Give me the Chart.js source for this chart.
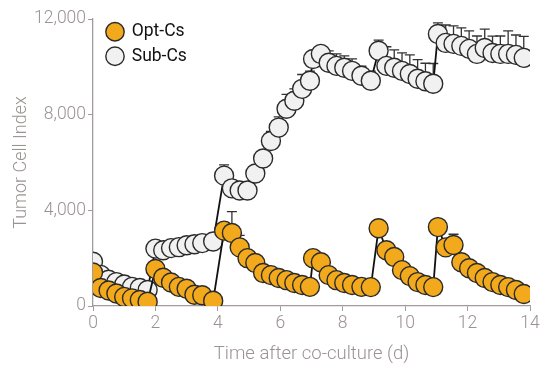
<!DOCTYPE html>
<html>
<head>
<meta charset="utf-8">
<script src="https://cdn.jsdelivr.net/npm/chart.js@4/dist/chart.umd.min.js"></script>
<style>
  html, body { margin: 0; padding: 0; background: #fff; }
  #wrap { width: 542px; height: 365px; }
</style>
</head>
<body>
<div id="wrap"><canvas id="myChart" width="542" height="365"></canvas></div>
<script>
const days = [
    0, 0.25, 0.5, 0.75, 1.0, 1.25, 1.5, 1.75,
    2.0, 2.25, 2.5, 2.75, 3.0, 3.25, 3.5, 3.85,
    4.2, 4.45, 4.7, 4.95, 5.2, 5.45, 5.7, 5.95, 6.2, 6.45, 6.7, 6.95,
    7.05, 7.3, 7.55, 7.8, 8.05, 8.3, 8.6, 8.9,
    9.15, 9.4, 9.65, 9.9, 10.15, 10.4, 10.65, 10.9,
    11.05, 11.3, 11.55, 11.8, 12.05, 12.3, 12.55, 12.8, 13.05, 13.3, 13.55, 13.8
];

const optCs = [
    1400, 750, 650, 520, 380, 320, 250, 180,
    1550, 1180, 980, 800, 720, 470, 450, 220,
    3150, 3050, 2450, 2000, 1800, 1380, 1290, 1170, 1080, 960, 880, 800,
    2000, 1830, 1290, 1080, 960, 880, 800, 790,
    3250, 2330, 2050, 1500, 1250, 1000, 880, 790,
    3300, 2450, 2550, 1830, 1580, 1380, 1170, 1000, 880, 790, 670, 500
];

const optErr = [
    0, 0, 0, 0, 0, 0, 0, 0,
    0, 0, 0, 0, 0, 0, 0, 0,
    0, 900, 500, 0, 0, 0, 0, 0, 0, 0, 0, 0,
    0, 0, 0, 0, 0, 0, 0, 0,
    330, 0, 0, 0, 0, 0, 0, 0,
    0, 0, 450, 0, 0, 0, 0, 0, 0, 0, 0, 0
];

const subCs = [
    1850, 1300, 1100, 1000, 900, 800, 750, 670,
    2400, 2330, 2420, 2460, 2540, 2580, 2630, 2700,
    5450, 4920, 4830, 4830, 5540, 6170, 6900, 7460, 8250, 8580, 9080, 9420,
    10330, 10540, 10170, 10040, 9960, 9830, 9625, 9420,
    10670, 10040, 9960, 9830, 9700, 9500, 9400, 9290,
    11375, 11000, 10960, 10875, 10750, 10540, 10790, 10580, 10540, 10540, 10500, 10375
];

const subErr = [
    0, 0, 0, 0, 0, 0, 0, 0,
    0, 0, 0, 0, 300, 350, 350, 300,
    450, 0, 0, 0, 0, 300, 400, 450, 600, 500, 600, 400,
    0, 300, 500, 500, 500, 500, 400, 400,
    450, 800, 750, 750, 800, 800, 750, 850,
    460, 750, 750, 750, 750, 750, 790, 700, 750, 960, 830, 900
];

const seriesLabels = ['Opt-Cs', 'Sub-Cs'];
const xTicks = [0, 2, 4, 6, 8, 10, 12, 14];
const yTicks = [0, 4000, 8000, 12000];

const AXIS_GREY = '#a39b9b';
const TEXT_GREY = '#9b9292';
const TICK_FONT = { family: 'Roboto', size: 17.5, weight: 300 };

const errorBars = {
    id: 'errorBars',
    beforeDatasetDraw (chart, args) {
        const errs = [optErr, subErr][args.index];
        const vals = [optCs, subCs][args.index];
        const { ctx, scales: { y } } = chart;

        ctx.save();
        ctx.strokeStyle = '#333';
        ctx.lineWidth = 1.3;
        args.meta.data.forEach((pt, i) => {
            if (!errs[i]) return;
            const top = y.getPixelForValue(vals[i] + errs[i]);
            ctx.beginPath();
            ctx.moveTo(pt.x, pt.y);
            ctx.lineTo(pt.x, top);
            ctx.moveTo(pt.x - 5, top);
            ctx.lineTo(pt.x + 5, top);
            ctx.stroke();
        });
        ctx.restore();
    }
};

// nudge the in-plot legend a little away from the axes
const legendShift = {
    id: 'legendShift',
    afterLayout (chart) {
        chart.legend.left += 7;
        chart.legend.top += 16;
    }
};

function toPoints (values) {
    return values.map((v, i) => ({ x: days[i], y: v }));
}

const ctx = document.getElementById('myChart');

new Chart(ctx, {
    type: 'line',
    data: {
        datasets: [
            {
                label: seriesLabels[0],
                data: toPoints(optCs),
                borderColor: '#111',
                borderWidth: 1.8,
                pointRadius: 9.5,
                pointBorderWidth: 1.4,
                pointBackgroundColor: '#f3a91c',
                pointBorderColor: '#2a2a2a',
                tension: 0
            },
            {
                label: seriesLabels[1],
                data: toPoints(subCs),
                borderColor: '#111',
                borderWidth: 1.8,
                pointRadius: 9.5,
                pointBorderWidth: 1.4,
                pointBackgroundColor: '#f1f1f1',
                pointBorderColor: '#2a2a2a',
                tension: 0
            }
        ]
    },
    options: {
        responsive: false,
        animation: false,
        layout: {
            padding: { top: 19, right: 12, bottom: 0, left: 4 }
        },
        font: { family: 'Roboto' },
        plugins: {
            legend: {
                position: 'chartArea',
                align: 'start',
                labels: {
                    usePointStyle: true,
                    pointStyle: 'circle',
                    boxWidth: 16,
                    boxHeight: 13,
                    padding: 7,
                    color: '#111',
                    font: { family: 'Roboto', size: 17.5 }
                }
            },
            tooltip: { enabled: false }
        },
        scales: {
            x: {
                type: 'linear',
                min: 0,
                max: 14,
                afterBuildTicks: axis => {
                    axis.ticks = xTicks.map(v => ({ value: v }));
                },
                afterFit: axis => {
                    axis.height = 59;
                },
                border: { color: AXIS_GREY, width: 1.3 },
                grid: {
                    drawOnChartArea: false,
                    drawTicks: true,
                    tickLength: 5,
                    color: AXIS_GREY
                },
                ticks: {
                    color: TEXT_GREY,
                    padding: 2,
                    maxRotation: 0,
                    font: TICK_FONT
                },
                title: {
                    display: true,
                    text: 'Time after co-culture (d)',
                    color: TEXT_GREY,
                    padding: { top: 4, bottom: 0 },
                    font: { family: 'Roboto', size: 18.5, weight: 300 }
                }
            },
            y: {
                min: 0,
                max: 12000,
                afterBuildTicks: axis => {
                    axis.ticks = yTicks.map(v => ({ value: v }));
                },
                afterFit: axis => {
                    axis.width = 89;
                },
                border: { color: AXIS_GREY, width: 1.3 },
                grid: {
                    drawOnChartArea: false,
                    drawTicks: true,
                    tickLength: 5,
                    color: AXIS_GREY
                },
                ticks: {
                    color: TEXT_GREY,
                    padding: 2,
                    font: TICK_FONT,
                    callback: value => value.toLocaleString('en-US')
                },
                title: {
                    display: true,
                    text: 'Tumor Cell Index',
                    color: TEXT_GREY,
                    padding: { top: 7, bottom: 0 },
                    font: { family: 'Roboto', size: 18, weight: 300 }
                }
            }
        }
    },
    plugins: [errorBars, legendShift]
});
</script>
</body>
</html>
